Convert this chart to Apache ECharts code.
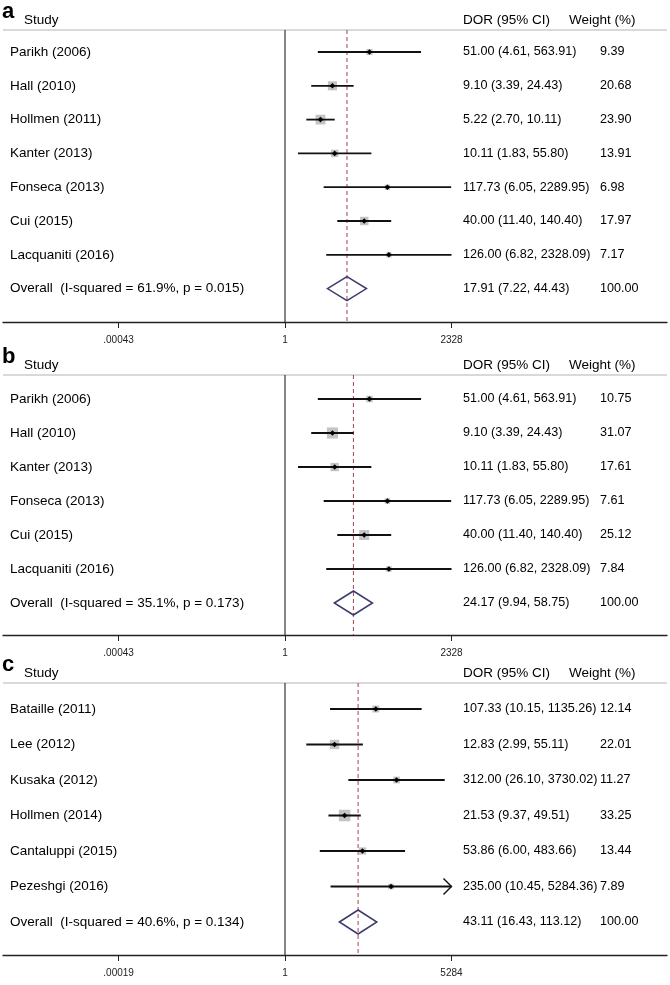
<!DOCTYPE html>
<html><head><meta charset="utf-8">
<script src="https://cdn.jsdelivr.net/npm/echarts@6/dist/echarts.min.js"></script>
<style>html,body{margin:0;padding:0;background:#fff}#c{width:670px;height:985px}</style>
</head><body><div id="c"></div>
<script>
// ---------- DATA ----------
const studiesA = ['Parikh (2006)','Hall (2010)','Hollmen (2011)','Kanter (2013)','Fonseca (2013)','Cui (2015)','Lacquaniti (2016)'];
const dorA    = [51.00, 9.10, 5.22, 10.11, 117.73, 40.00, 126.00];
const lowA    = [4.61, 3.39, 2.70, 1.83, 6.05, 11.40, 6.82];
const highA   = [563.91, 24.43, 10.11, 55.80, 2289.95, 140.40, 2328.09];
const weightA = [9.39, 20.68, 23.90, 13.91, 6.98, 17.97, 7.17];
const arrowA  = [0,0,0,0,0,0,0];
const overallLabelA = 'Overall  (I-squared = 61.9%, p = 0.015)';
const overallA = [17.91, 7.22, 44.43];
const ticksA = [0.00043, 1, 2328];
const tickLabelsA = ['.00043','1','2328'];

const studiesB = ['Parikh (2006)','Hall (2010)','Kanter (2013)','Fonseca (2013)','Cui (2015)','Lacquaniti (2016)'];
const dorB    = [51.00, 9.10, 10.11, 117.73, 40.00, 126.00];
const lowB    = [4.61, 3.39, 1.83, 6.05, 11.40, 6.82];
const highB   = [563.91, 24.43, 55.80, 2289.95, 140.40, 2328.09];
const weightB = [10.75, 31.07, 17.61, 7.61, 25.12, 7.84];
const arrowB  = [0,0,0,0,0,0];
const overallLabelB = 'Overall  (I-squared = 35.1%, p = 0.173)';
const overallB = [24.17, 9.94, 58.75];
const ticksB = [0.00043, 1, 2328];
const tickLabelsB = ['.00043','1','2328'];

const studiesC = ['Bataille (2011)','Lee (2012)','Kusaka (2012)','Hollmen (2014)','Cantaluppi (2015)','Pezeshgi (2016)'];
const dorC    = [107.33, 12.83, 312.00, 21.53, 53.86, 235.00];
const lowC    = [10.15, 2.99, 26.10, 9.37, 6.00, 10.45];
const highC   = [1135.26, 55.11, 3730.02, 49.51, 483.66, 5284.36];
const weightC = [12.14, 22.01, 11.27, 33.25, 13.44, 7.89];
const arrowC  = [0,0,0,0,0,1];
const overallLabelC = 'Overall  (I-squared = 40.6%, p = 0.134)';
const overallC = [43.11, 16.43, 113.12];
const ticksC = [0.00019, 1, 5284];
const tickLabelsC = ['.00019','1','5284'];

const overallWeight = 100.00;

// ---------- LAYOUT ----------
const FONT = '"Liberation Sans", Arial, Helvetica, sans-serif';
const panels = [
  {letter:'a', studies:studiesA, dor:dorA, low:lowA, high:highA, weight:weightA, arrow:arrowA, olabel:overallLabelA, overall:overallA, ticks:ticksA, tickLabels:tickLabelsA,
   gray:30, first:52, step:33.8, axis:322, logMin:-5.703, logMax:7.725},
  {letter:'b', studies:studiesB, dor:dorB, low:lowB, high:highB, weight:weightB, arrow:arrowB, olabel:overallLabelB, overall:overallB, ticks:ticksB, tickLabels:tickLabelsB,
   gray:375, first:399, step:34, axis:635, logMin:-5.703, logMax:7.725},
  {letter:'c', studies:studiesC, dor:dorC, low:lowC, high:highC, weight:weightC, arrow:arrowC, olabel:overallLabelC, overall:overallC, ticks:ticksC, tickLabels:tickLabelsC,
   gray:683, first:709, step:35.5, axis:955, logMin:-6.306, logMax:8.542}
];
const GL = 3, GR = 3;

const grids = [], xAxes = [], yAxes = [], series = [], graphics = [];
panels.forEach((p, k) => {
  const yTop = (p.gray - p.first) / p.step, yBot = (p.axis - p.first) / p.step;
  grids.push({left: GL, right: GR, top: p.gray, height: p.axis - p.gray, containLabel: false});
  xAxes.push({
    type: 'log', logBase: 10, gridIndex: k, position: 'bottom',
    min: Math.pow(10, p.logMin), max: Math.pow(10, p.logMax),
    axisLine: {show: true, onZero: false, lineStyle: {color: '#222', width: 1.3}},
    axisTick: {show: true, length: 6, customValues: p.ticks, lineStyle: {color: '#222', width: 1}},
    axisLabel: {show: true, customValues: p.ticks, margin: 13, fontSize: 10, fontFamily: FONT, color: '#222',
      formatter: (v) => {
        let best = 0, bd = Infinity;
        p.ticks.forEach((t, i) => { const d = Math.abs(Math.log10(t) - Math.log10(v)); if (d < bd) { bd = d; best = i; } });
        return p.tickLabels[best];
      }},
    splitLine: {show: false}, minorTick: {show: false}
  });
  const n = p.studies.length;
  yAxes.push({type: 'value', gridIndex: k, inverse: true, min: yTop, max: yBot, show: false});

  // rows data: [est, lo, hi, row, weight, kind, arrow]
  const rows = p.studies.map((s, i) => [p.dor[i], p.low[i], p.high[i], i, p.weight[i], 0, p.arrow[i]]);
  rows.push([p.overall[0], p.overall[1], p.overall[2], n, overallWeight, 1, 0]);
  const labels = p.studies.concat([p.olabel]);

  series.push({
    type: 'custom', xAxisIndex: k, yAxisIndex: k, coordinateSystem: 'cartesian2d',
    encode: {x: [0, 1, 2], y: 3},
    data: rows, clip: false, silent: true, z: 5,
    renderItem: (params, api) => {
      const est = api.value(0), lo = api.value(1), hi = api.value(2), row = api.value(3);
      const w = api.value(4), kind = api.value(5), arr = api.value(6);
      const cs = params.coordSys;
      const y = api.coord([1, row])[1];
      const children = [];
      const txt = (t, x, fs) => ({type: 'text', style: {text: t, x: x, y: y, fill: '#000', font: fs + 'px ' + FONT, verticalAlign: 'middle', align: 'left'}});
      children.push(txt(labels[params.dataIndex], cs.x + 7, 13.5));
      children.push(txt(est.toFixed(2) + ' (' + lo.toFixed(2) + ', ' + hi.toFixed(2) + ')', cs.x + 460, 12.6));
      children.push(txt(w.toFixed(2), cs.x + 597, 12.6));
      const xLo = api.coord([lo, row])[0];
      const xEst = api.coord([est, row])[0];
      if (kind === 1) {
        const xHi = api.coord([hi, row])[0];
        const h = 12;
        children.push({type: 'polygon', shape: {points: [[xLo, y], [xEst, y - h], [xHi, y], [xEst, y + h]]},
          style: {fill: 'none', stroke: '#3b3b6e', lineWidth: 1.5}});
      } else {
        const hiClip = arr ? p.ticks[2] : hi;
        const xHi = api.coord([hiClip, row])[0];
        const side = 2 * Math.sqrt(w);
        children.push({type: 'rect', shape: {x: xEst - side / 2, y: y - side / 2, width: side, height: side},
          style: {fill: '#c4c4c4'}});
        children.push({type: 'line', shape: {x1: xLo, y1: y, x2: xHi, y2: y}, style: {stroke: '#111', lineWidth: 1.8}});
        if (arr) {
          children.push({type: 'polyline', shape: {points: [[xHi - 8, y - 8], [xHi, y], [xHi - 8, y + 8]]},
            style: {fill: 'none', stroke: '#111', lineWidth: 1.4}});
        }
        children.push({type: 'polygon', shape: {points: [[xEst - 2.8, y], [xEst, y - 2.8], [xEst + 2.8, y], [xEst, y + 2.8]]},
          style: {fill: '#000'}});
      }
      return {type: 'group', children: children};
    }
  });
  // null line at 1
  series.push({
    type: 'line', xAxisIndex: k, yAxisIndex: k, data: [[1, yTop], [1, yBot]],
    symbol: 'none', silent: true, z: 3, lineStyle: {color: '#222', width: 1.1}
  });
  // dashed overall line
  series.push({
    type: 'line', xAxisIndex: k, yAxisIndex: k, data: [[p.overall[0], yTop], [p.overall[0], yBot]],
    symbol: 'none', silent: true, z: 3, lineStyle: {color: '#a5424f', width: 1, type: [4, 3]}
  });

  // header gray line
  graphics.push({type: 'line', shape: {x1: GL, y1: p.gray, x2: 670 - GR, y2: p.gray}, style: {stroke: '#cdcdcd', lineWidth: 1.6}, z: 1});
  // panel letter and headers
  graphics.push({type: 'text', x: 2, y: p.gray - 7, style: {text: p.letter, font: 'bold 22px ' + FONT, fill: '#000', verticalAlign: 'bottom'}});
  graphics.push({type: 'text', x: 24, y: p.gray - 3, style: {text: 'Study', font: '13.5px ' + FONT, fill: '#000', verticalAlign: 'bottom'}});
  graphics.push({type: 'text', x: GL + 460, y: p.gray - 3, style: {text: 'DOR (95% CI)', font: '13.5px ' + FONT, fill: '#000', verticalAlign: 'bottom'}});
  graphics.push({type: 'text', x: GL + 566, y: p.gray - 3, style: {text: 'Weight (%)', font: '13.5px ' + FONT, fill: '#000', verticalAlign: 'bottom'}});
});

const chart = echarts.init(document.getElementById('c'), null, {renderer: 'canvas'});
chart.setOption({
  animation: false,
  backgroundColor: '#fff',
  grid: grids, xAxis: xAxes, yAxis: yAxes, series: series, graphic: graphics
});
</script></body></html>
